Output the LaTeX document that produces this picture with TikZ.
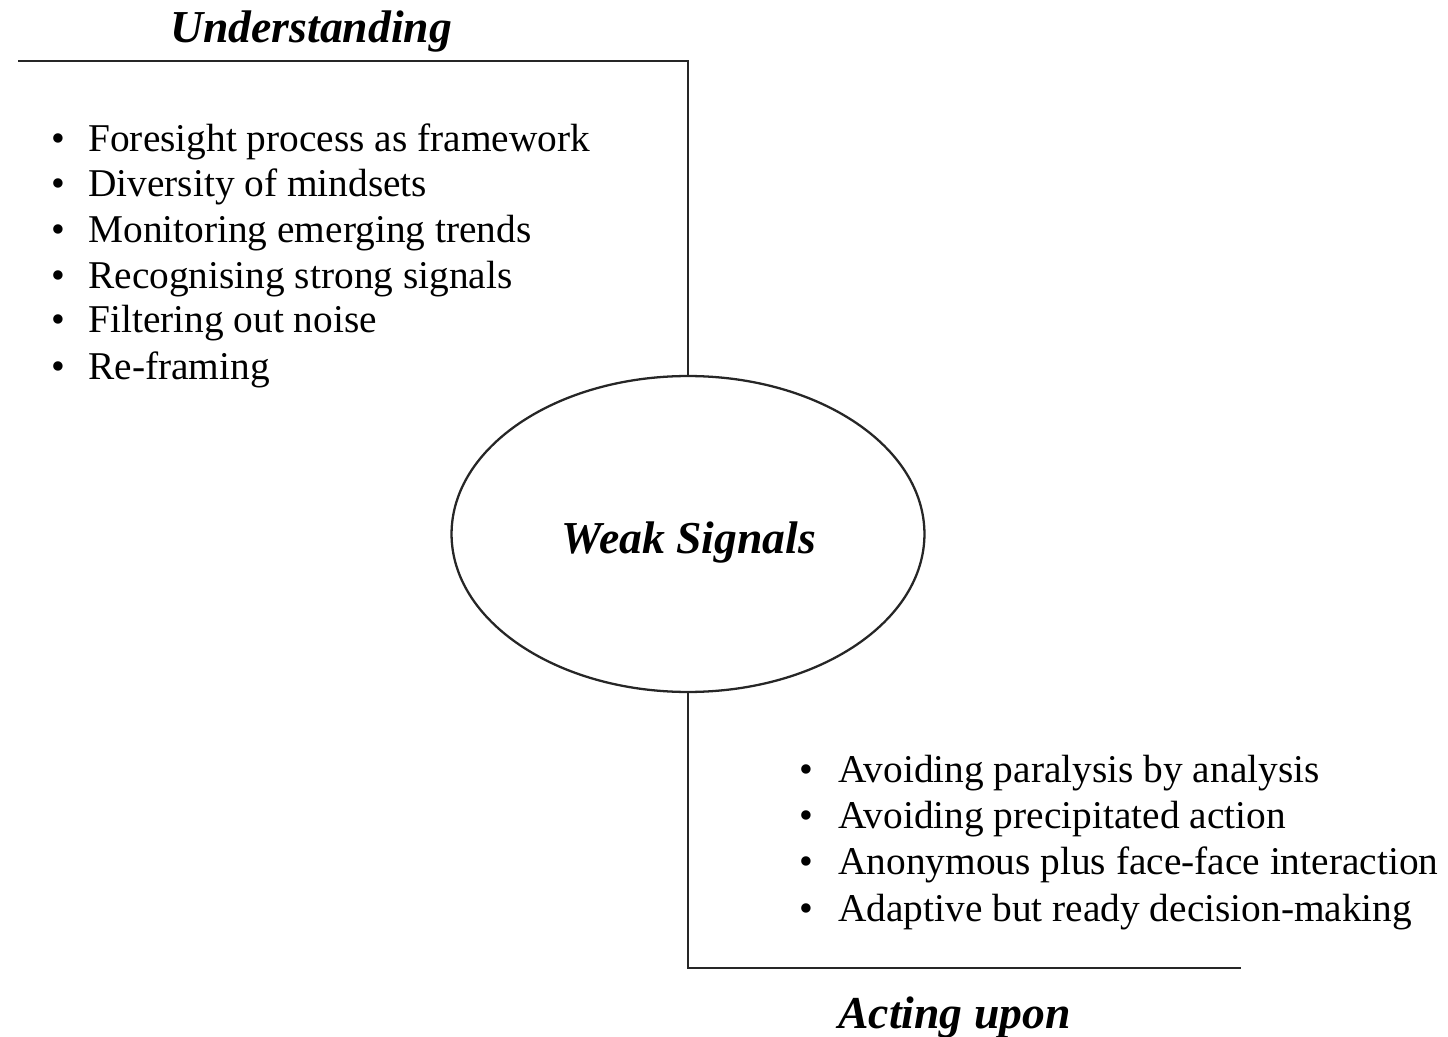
\documentclass[tikz,border=0pt]{standalone}
\usepackage{fontspec}
\setmainfont{Liberation Serif}
\usetikzlibrary{shapes.geometric}
\begin{document}
\begin{tikzpicture}[x=0.02cm,y=-0.02cm,
  conn/.style={draw=black!85,line width=1.3pt},
  itemtext/.style={anchor=base west,inner sep=0pt,font=\fontsize{22.4}{26}\selectfont},
  bul/.style={anchor=base,inner sep=0pt,font=\fontsize{22.4}{26}\selectfont},
  heading/.style={anchor=base west,inner sep=0pt,font=\fontsize{26}{30}\selectfont\bfseries\itshape}]
\useasboundingbox (0,0) rectangle (1448,1037);
\node[ellipse,draw=black!85,line width=1.3pt,minimum width=9.46cm,minimum height=6.32cm,inner sep=0pt] (ws) at (688,534) {};
\node[anchor=base,inner sep=0pt,font=\fontsize{26}{30}\selectfont\bfseries\itshape] (wst) at (689,553) {Weak Signals};
\coordinate (tl) at (18,61);
\coordinate (tc) at (688,61);
\coordinate (bc) at (688,968);
\coordinate (br) at (1241,968);
\draw[conn] (tl) -- (tc) -- (ws.north);
\draw[conn] (ws.south) -- (bc) -- (br);
\node[heading] (und) at (170,43) {Understanding};
\node[heading] (act) at (838,1028) {Acting upon};
\foreach \y/\t [count=\i] in {152/Foresight process as framework,197/Diversity of mindsets,243/Monitoring emerging trends,289/Recognising strong signals,333/Filtering out noise,379/Re-framing}{
  \node[bul] (lb\i) at (58,\y) {\textbullet};
  \node[itemtext] (lt\i) at (88,\y) {\t};
}
\foreach \y/\t [count=\i] in {782/Avoiding paralysis by analysis,828/Avoiding precipitated action,874/Anonymous plus face-face interaction,921/Adaptive but ready decision-making}{
  \node[bul] (rb\i) at (806,\y) {\textbullet};
  \node[itemtext] (rt\i) at (838,\y) {\t};
}
\end{tikzpicture}
\end{document}
